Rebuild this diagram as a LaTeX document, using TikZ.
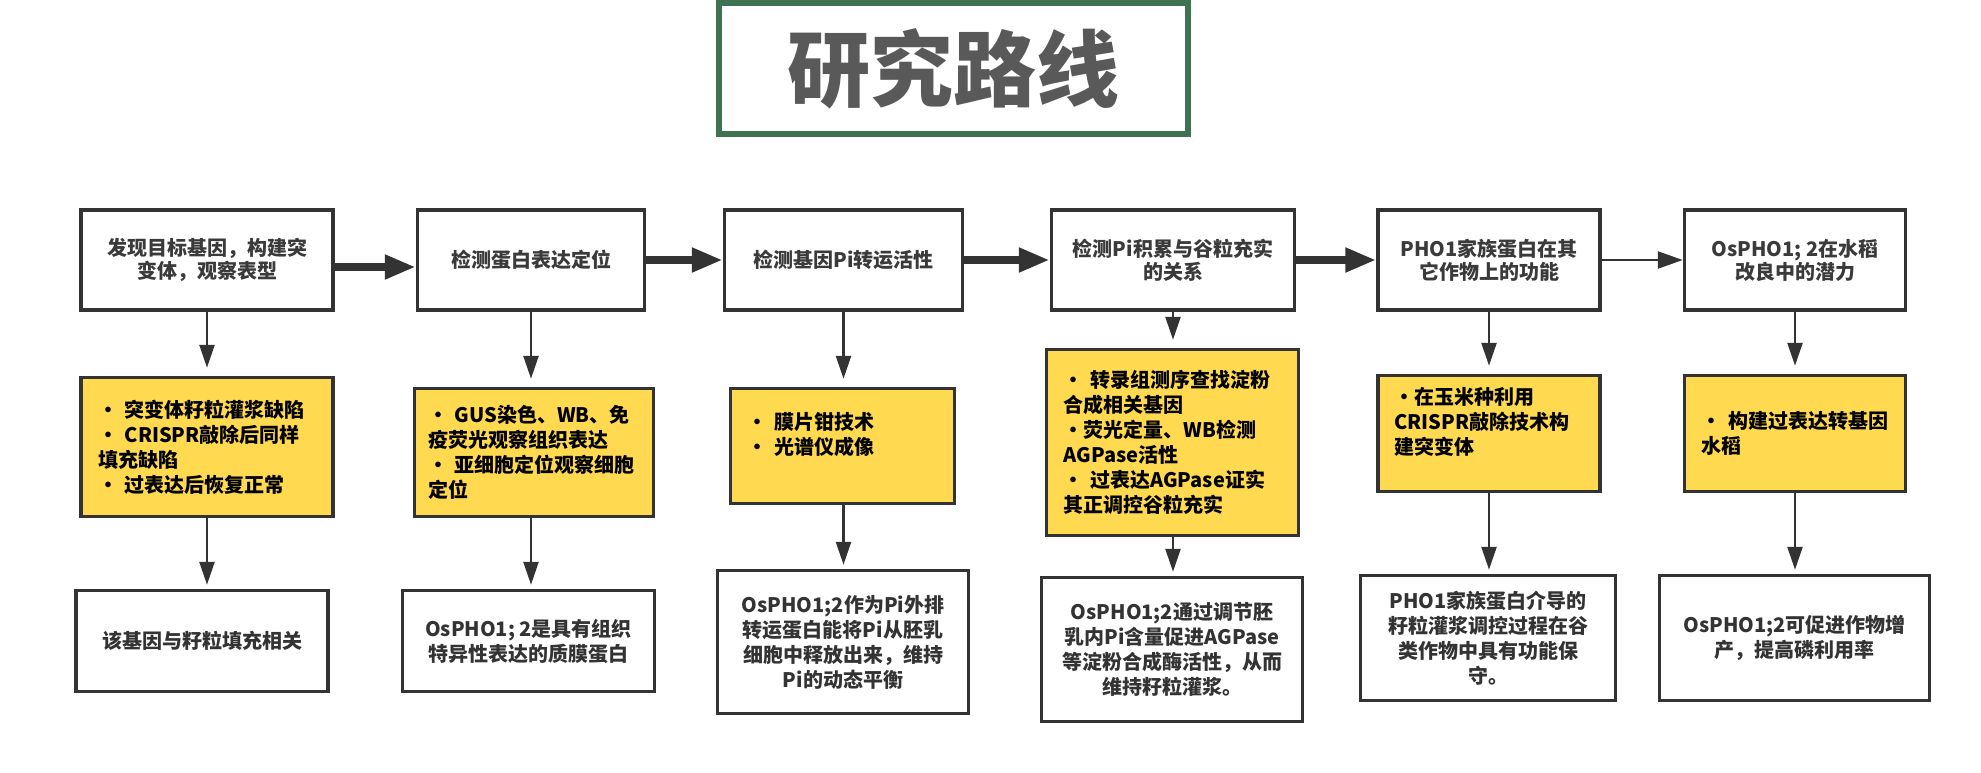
\documentclass[tikz,border=0pt]{standalone}
\usepackage{fontspec}
\setmainfont{Noto Sans CJK SC}
\usetikzlibrary{arrows.meta}
\definecolor{boxline}{HTML}{333333}
\definecolor{noteyellow}{HTML}{FFD94F}
\definecolor{titlegreen}{HTML}{3D7350}
\definecolor{titlegray}{HTML}{595959}
\definecolor{steptext}{HTML}{3A3A3A}
\tikzset{
  stepbox/.style={draw=boxline, line width=3.5pt, fill=white, align=center, inner sep=0pt,
    minimum height=100pt, text=steptext, font=\fontsize{20}{23}\selectfont\bfseries},
  notebox/.style={draw=boxline, line width=3.5pt, fill=noteyellow, align=left, inner sep=0pt,
    text width=#1, text=black, font=\fontsize{20}{25}\selectfont\bfseries},
  resultbox/.style={stepbox, minimum height=101pt, text=boxline, font=\fontsize{20}{25}\selectfont\bfseries},
  flowarrow/.style={draw=boxline, line width=8pt, -{Triangle[length=31pt,width=23pt]}},
  linkarrow/.style={draw=boxline, line width=2.5pt, -{Triangle[length=25pt,width=17pt]}},
  downarrow/.style={draw=boxline, line width=2.5pt, -{Triangle[length=23pt,width=15pt]}}
}
\begin{document}
\begin{tikzpicture}[x=1pt,y=-1pt]
\useasboundingbox (0,0) rectangle (1981,772);
% title
\node[draw=titlegreen, line width=6pt, minimum width=469pt, minimum height=131pt, inner sep=0pt,
  text=titlegray, font=\fontsize{83}{83}\selectfont\bfseries] (title) at (953.5,68.5) {研究路线};
% steps
\node[stepbox, minimum width=252pt] (t1) at (207,260) {发现目标基因，构建突\\变体，观察表型};
\node[stepbox, minimum width=227pt] (t2) at (531,260) {检测蛋白表达定位};
\node[stepbox, minimum width=238pt] (t3) at (843.5,260) {检测基因Pi转运活性};
\node[stepbox, minimum width=243pt] (t4) at (1173,260) {检测Pi积累与谷粒充实\\的关系};
\node[stepbox, minimum width=222pt] (t5) at (1489,260) {PHO1家族蛋白在其\\它作物上的功能};
\node[stepbox, minimum width=221pt] (t6) at (1795,260) {OsPHO1; 2在水稻\\改良中的潜力};
% methods
\node[notebox=218pt, minimum width=252pt, minimum height=139pt] (y1) at (207,447)
  {•~突变体籽粒灌浆缺陷\\•~CRISPR敲除后同样\\填充缺陷\\•~过表达后恢复正常};
\node[notebox=212pt, minimum width=239pt, minimum height=128pt] (y2) at (534,452.5)
  {•~GUS染色、WB、免\\疫荧光观察组织表达\\•~亚细胞定位观察细胞\\定位};
\node[notebox=190pt, minimum width=224pt, minimum height=115pt] (y3) at (842.5,446)
  {•~膜片钳技术\\•~光谱仪成像\\\mbox{}};
\node[notebox=218pt, minimum width=252pt, minimum height=186pt] (y4) at (1172.5,442.5)
  {•~转录组测序查找淀粉\\合成相关基因\\•荧光定量、WB检测\\AGPase活性\\•~过表达AGPase证实\\其正调控谷粒充实};
\node[notebox=190pt, minimum width=222pt, minimum height=116pt] (y5) at (1489,433.5)
  {•在玉米种利用\\CRISPR敲除技术构\\建突变体\\\mbox{}};
\node[notebox=187pt, minimum width=221pt, minimum height=116pt] (y6) at (1795,433.5)
  {•~构建过表达转基因\\水稻};
% results
\node[resultbox, minimum width=252pt] (b1) at (202,641) {该基因与籽粒填充相关};
\node[resultbox, minimum width=252pt] (b2) at (528.5,641) {OsPHO1; 2是具有组织\\特异性表达的质膜蛋白};
\node[resultbox, minimum width=251pt, minimum height=143pt] (b3) at (843,642)
  {OsPHO1;2作为Pi外排\\转运蛋白能将Pi从胚乳\\细胞中释放出来，维持\\Pi的动态平衡};
\node[resultbox, minimum width=261pt, minimum height=144pt] (b4) at (1172,649.5)
  {OsPHO1;2通过调节胚\\乳内Pi含量促进AGPase\\等淀粉合成酶活性，从而\\维持籽粒灌浆。};
\node[resultbox, minimum width=255pt, minimum height=125pt] (b5) at (1488,638)
  {PHO1家族蛋白介导的\\籽粒灌浆调控过程在谷\\类作物中具有功能保\\守。};
\node[resultbox, minimum width=270pt, minimum height=125pt] (b6) at (1794.5,638)
  {OsPHO1;2可促进作物增\\产，提高磷利用率};
% arrows between steps
\draw[flowarrow] ([yshift=-7pt]t1.east) -- ([yshift=-7pt]t2.west);
\draw[flowarrow] (t2) -- (t3);
\draw[flowarrow] (t3) -- (t4);
\draw[flowarrow] (t4) -- (t5);
\draw[linkarrow] (t5) -- (t6);
% arrows down each column
\foreach \c in {1,...,6}{
  \draw[downarrow, shorten >=8pt] (t\c.south) -- (t\c.south |- y\c.north);
  \draw[downarrow, shorten >=4pt] (t\c.south |- y\c.south) -- (t\c.south |- b\c.north);
}
\end{tikzpicture}
\end{document}
